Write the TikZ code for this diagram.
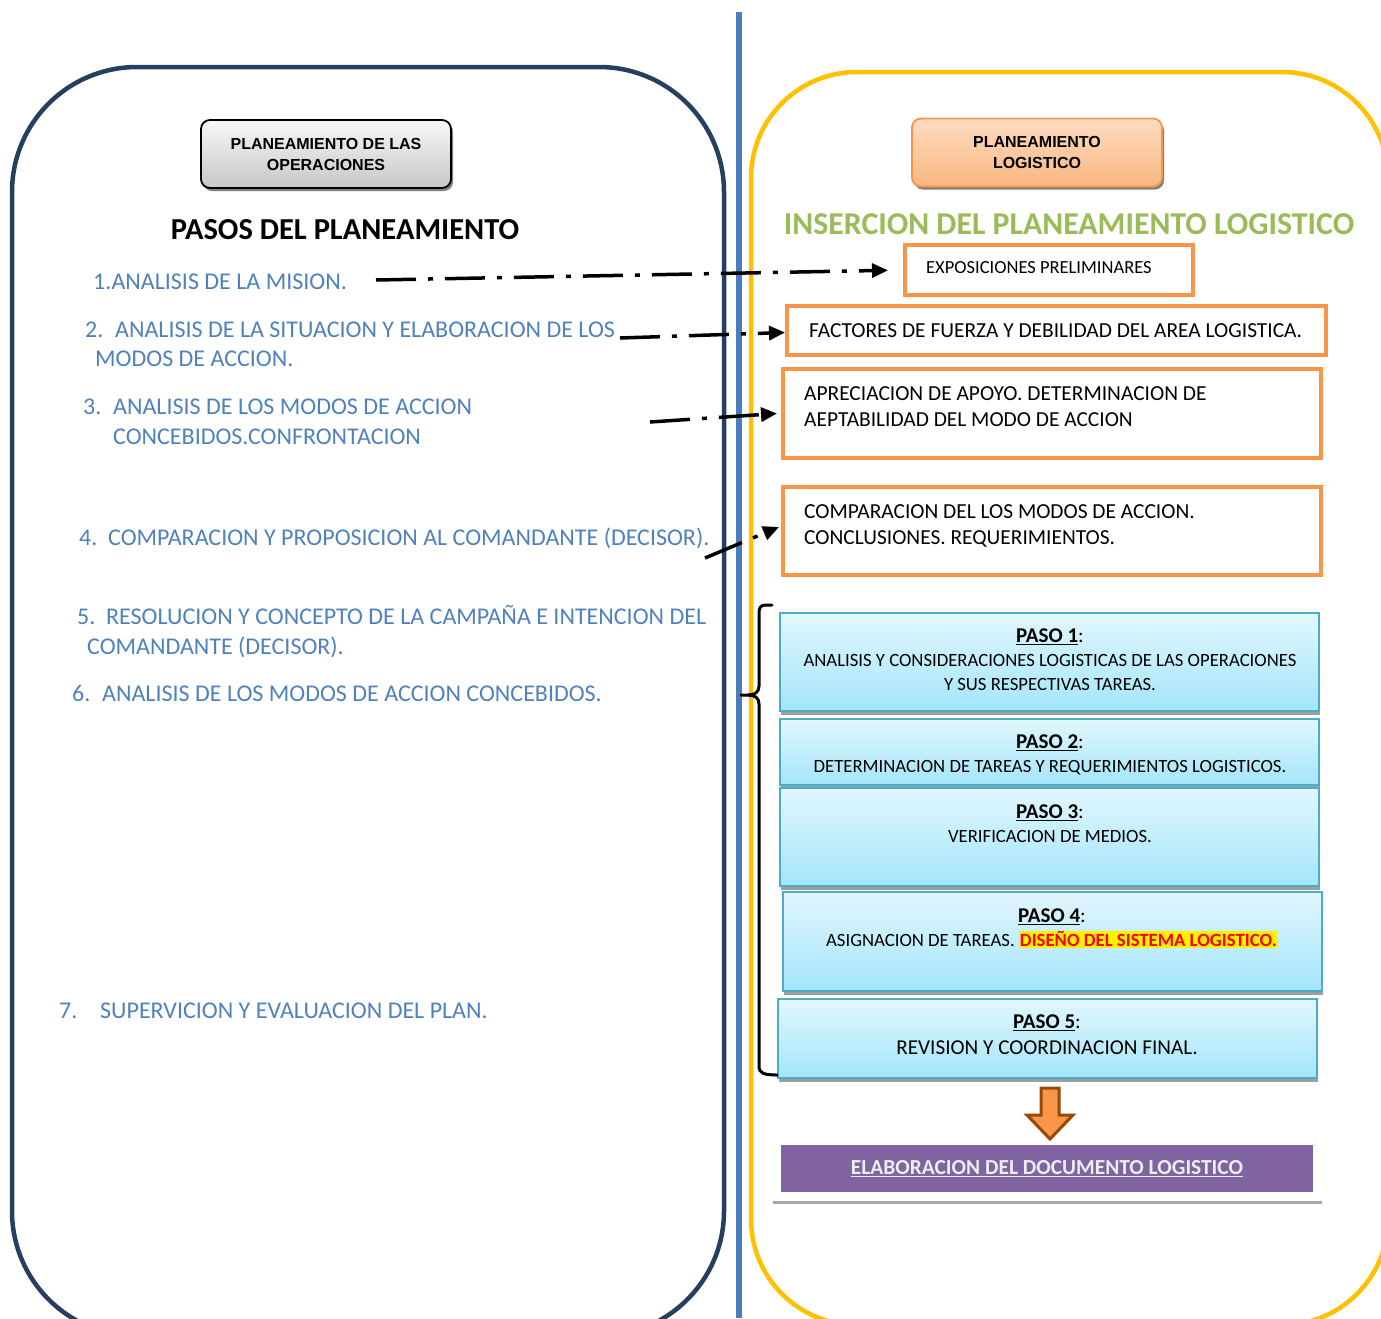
\documentclass[tikz,border=0pt]{standalone}
\usepackage{fontspec}
\setmainfont{Carlito}
\newfontfamily\arialf{Liberation Sans}
\usetikzlibrary{arrows.meta,shadows}
\definecolor{navy}{HTML}{243F60}
\definecolor{bluel}{HTML}{4A7EBB}
\definecolor{gold}{HTML}{FFC000}
\definecolor{txtblue}{HTML}{4F81BD}
\definecolor{orng}{HTML}{F79646}
\definecolor{grn}{HTML}{9BBB59}
\definecolor{cyanb}{HTML}{4BACC6}
\definecolor{cyantop}{HTML}{E2F7FE}
\definecolor{cyanbot}{HTML}{A3E5FA}
\definecolor{purp}{HTML}{8064A2}
\definecolor{brwn}{HTML}{984807}
\definecolor{peachtop}{HTML}{FDDCC2}
\definecolor{peachbot}{HTML}{F9B680}
\tikzset{
  hdrbox/.style={line width=1.8pt, rounded corners=9pt, minimum width=250pt, minimum height=68pt,
    align=center, inner sep=0pt, font=\arialf\bfseries\fontsize{16}{21}\selectfont,
    drop shadow={shadow xshift=2pt,shadow yshift=-3pt,fill=black!50,opacity=1}},
  ltxt/.style={anchor=base west, inner sep=0pt, text=txtblue, font=\fontsize{24}{28}\selectfont},
  obox/.style={draw=orng, line width=4pt, fill=white, inner sep=0pt},
  otxt/.style={anchor=base west, inner sep=0pt, align=left, font=\fontsize{21.4}{26}\selectfont},
  pbox/.style={draw=cyanb, line width=2pt, top color=cyantop, bottom color=cyanbot, inner sep=0pt,
    minimum width=539pt,
    drop shadow={shadow xshift=1pt,shadow yshift=-4pt,fill=black!38,opacity=1}},
  ptxt/.style={anchor=north, inner sep=0pt, align=center, font=\fontsize{18.7}{23.8}\selectfont},
  ddarrow/.style={line width=3.5pt, dash pattern=on 40pt off 12pt on 5pt off 12pt,
    -{Triangle[length=16pt,width=14pt]}},
}
\newcommand{\phead}[1]{{\fontsize{21}{23.5}\selectfont{\bfseries\underline{PASO #1}}:}}
\begin{document}
\begin{tikzpicture}[x=1pt,y=-1pt]
\useasboundingbox (0,0) rectangle (1381,1318);
\clip (0,0) rectangle (1381,1318);
\fill[white] (0,0) rectangle (1381,1318);
% big frames
\draw[navy, line width=4.5pt, rounded corners=125pt] (12,67) rectangle (724,1336);
\draw[gold, line width=4.5pt, rounded corners=106pt] (751,72) rectangle (1388,1325);
\draw[bluel, line width=6pt] (739,12) -- (739,1318);

% headers
\node[hdrbox, draw=black, top color=white!97!black, bottom color=black!22] (h1) at (326,154) {PLANEAMIENTO DE LAS\\OPERACIONES};
\node[hdrbox, draw=orng, top color=peachtop, bottom color=peachbot] (h2) at (1037,152.5) {PLANEAMIENTO\\LOGISTICO};

\node[font=\bfseries\fontsize{30.5}{34}\selectfont, inner sep=0pt] (t1) at (345,230) {PASOS DEL PLANEAMIENTO};
\node[font=\bfseries\fontsize{31.8}{34}\selectfont, text=grn, inner sep=0pt] (t2) at (1069,224) {INSERCION DEL PLANEAMIENTO LOGISTICO};

% left list
\node[ltxt] (i1) at (93,289) {1.ANALISIS DE LA MISION.};
\node[ltxt] (i2a) at (85,337) {\makebox[30pt][l]{2.}ANALISIS DE LA SITUACION Y ELABORACION DE LOS};
\node[ltxt] (i2b) at (95,366) {MODOS DE ACCION.};
\node[ltxt] (i3a) at (83,414) {\makebox[30pt][l]{3.}ANALISIS DE LOS MODOS DE ACCION};
\node[ltxt] (i3b) at (113,444) {CONCEBIDOS.CONFRONTACION};
\node[ltxt] (i4) at (79,545) {\makebox[29pt][l]{4.}COMPARACION Y PROPOSICION AL COMANDANTE (DECISOR).};
\node[ltxt] (i5a) at (77,624) {\makebox[29pt][l]{5.}RESOLUCION Y CONCEPTO DE LA CAMPAÑA E INTENCION DEL};
\node[ltxt] (i5b) at (87,654) {COMANDANTE (DECISOR).};
\node[ltxt] (i6) at (72,701) {\makebox[30pt][l]{6.}ANALISIS DE LOS MODOS DE ACCION CONCEBIDOS.};
\node[ltxt] (i7) at (59,1018) {\makebox[41pt][l]{7.}SUPERVICION Y EVALUACION DEL PLAN.};

% orange boxes
\node[obox, minimum width=288pt, minimum height=50pt] (e1) at (1049,270) {};
\node[otxt, font=\fontsize{18.5}{22}\selectfont] (e1t) at (926,273) {EXPOSICIONES PRELIMINARES};
\node[obox, minimum width=539pt, minimum height=49pt] (e2) at (1056.5,330.5) {};
\node[otxt] (e2t) at (809,337) {FACTORES DE FUERZA Y DEBILIDAD DEL AREA LOGISTICA.};
\node[obox, minimum width=538pt, minimum height=89pt] (e3) at (1052,413.5) {};
\node[otxt] (e3t) at (804,426) {APRECIACION DE APOYO. DETERMINACION DE\\AEPTABILIDAD DEL MODO DE ACCION};
\node[obox, minimum width=538pt, minimum height=88pt] (e4) at (1052,531) {};
\node[otxt] (e4t) at (804,544) {COMPARACION DEL LOS MODOS DE ACCION.\\CONCLUSIONES. REQUERIMIENTOS.};

% dash-dot arrows
\coordinate (a1) at (376,280);
\coordinate (a2) at (620,338);
\coordinate (a3) at (650,422);
\coordinate (a4) at (705,558);
\draw[ddarrow, shorten >=15pt] (a1) -- (e1.west);
\draw[ddarrow] (a2) -- ([yshift=-2pt]e2.west);
\draw[ddarrow] (a3) -- ([xshift=-4pt]e3.west);
\draw[ddarrow] (a4) -- ([xshift=-2pt,yshift=4pt]e4.west);

% paso boxes
\node[pbox, minimum height=98pt] (p1) at (1049.5,662) {};
\node[pbox, minimum height=66pt] (p2) at (1049.5,752) {};
\node[pbox, minimum height=98pt] (p3) at (1049.5,837) {};
\node[pbox, minimum height=99pt] (p4) at (1052,941.5) {};
\node[pbox, minimum height=79pt] (p5) at (1047.5,1038.5) {};
\node[ptxt] (p1t) at (1050,629) {\phead{1}\\ANALISIS Y CONSIDERACIONES LOGISTICAS DE LAS OPERACIONES\\Y SUS RESPECTIVAS TAREAS.};
\node[ptxt] (p2t) at (1050,735) {\phead{2}\\DETERMINACION DE TAREAS Y REQUERIMIENTOS LOGISTICOS.};
\node[ptxt] (p3t) at (1050,805) {\phead{3}\\VERIFICACION DE MEDIOS.};
\node[ptxt] (p4t) at (1052,909) {\phead{4}\\ASIGNACION DE TAREAS. {\setlength{\fboxsep}{1pt}\colorbox{yellow}{\color{red}\bfseries DISEÑO DEL SISTEMA LOGISTICO.}}};
\node[ptxt, font=\fontsize{21.2}{26}\selectfont] (p5t) at (1047,1015) {\phead{5}\\REVISION Y COORDINACION FINAL.};

% brace
\draw[line width=3pt, line cap=round] (772,605) -- (766,605) .. controls (760,605) and (759,608) .. (759,614)
  -- (759,686) .. controls (759,692) and (755,695) .. (748,695) -- (741,695);
\draw[line width=3pt] (748,695) .. controls (755,695) and (759,698) .. (759,704)
  -- (759,1066) .. controls (759,1073) and (763,1075) .. (778,1075);

% block arrow down
\draw[fill=orng, draw=brwn, line width=3pt, line join=miter]
  (1041,1088) -- (1059,1088) -- (1059,1115) -- (1073,1115) -- (1050,1139) -- (1027,1115) -- (1041,1115) -- cycle;

% purple box
\draw[black!35, line width=3pt] (773,1202) -- (1322,1202);
\node[fill=purp, minimum width=532pt, minimum height=47pt, inner sep=0pt,
  font=\bfseries\fontsize{21.4}{24}\selectfont, text=white!93!black] (doc) at (1047,1168.5)
  {\underline{ELABORACION DEL DOCUMENTO LOGISTICO}};
\end{tikzpicture}
\end{document}
